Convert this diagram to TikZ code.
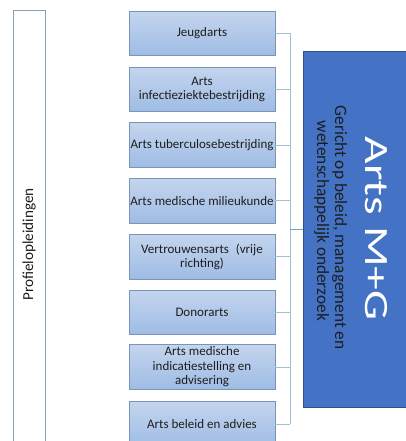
\documentclass[tikz,border=0pt]{standalone}
\usepackage{fontspec}
\setmainfont{Carlito}
\definecolor{boxtop}{RGB}{196,213,238}
\definecolor{boxbot}{RGB}{158,188,228}
\definecolor{boxline}{RGB}{122,148,184}
\definecolor{leftc}{RGB}{140,160,184}
\definecolor{connc}{RGB}{160,190,212}
\definecolor{conn2c}{RGB}{120,160,200}
\definecolor{mgfill}{RGB}{68,114,196}
\definecolor{mgline}{RGB}{47,82,143}
\definecolor{txt}{RGB}{30,30,30}
\begin{document}
\begin{tikzpicture}[x=1pt,y=-1pt,
  stepbox/.style={draw=boxline, line width=0.8pt, top color=boxtop, bottom color=boxbot,
    minimum width=146pt, minimum height=44.5pt, inner sep=0pt,
    align=center, font=\fontsize{13}{14.5}\selectfont, text=txt},
  conn/.style={draw=connc, line width=0.9pt},
  conn2/.style={draw=conn2c, line width=1.2pt},
  vtext/.style={rotate=-90, anchor=base, text=txt, font=\fontsize{17.3}{20}\selectfont}
]
\useasboundingbox (0,0) rectangle (406,441);
\clip (0,0) rectangle (406,441);
\fill[white] (0,0) rectangle (406,441);
% left frame
\node[draw=leftc, line width=0.8pt, minimum width=32pt, minimum height=470pt, inner sep=0pt, anchor=north west] (left) at (13,10) {};
\node[rotate=90, anchor=base, text=txt, font=\fontsize{15.2}{18}\selectfont] (plabel) at (33,244.5) {Profielopleidingen};
% boxes
\node[stepbox] (b1) at (202,33.5) {Jeugdarts};
\node[stepbox] (b2) at (202,89.3) {Arts\\infectieziektebestrijding};
\node[stepbox] (b3) at (202,145.1) {Arts tuberculosebestrijding};
\node[stepbox] (b4) at (202,200.9) {Arts medische milieukunde};
\node[stepbox] (b5) at (202,256.7) {Vertrouwensarts\hspace{0.3em} (vrije\\richting)};
\node[stepbox] (b6) at (202,312.5) {Donorarts};
\node[stepbox] (b7) at (202,367) {Arts medische\\indicatiestelling en\\advisering};
\node[stepbox] (b8) at (202,424.1) {Arts beleid en advies};
% blue box
\node[draw=mgline, fill=mgfill, line width=1pt, minimum width=110pt, minimum height=356pt, inner sep=0pt, anchor=north west] (mg) at (303,51) {};
\node[rotate=-90, anchor=base, text=white, font=\fontsize{34}{40}\selectfont] (mgt) at (365,228.5) {\scalebox{1.4}[1]{Arts M+G}};
\node[vtext] (sub1) at (335,227.5) {Gericht op beleid, management en};
\node[vtext] (sub2) at (317,221) {wetenschappelijk onderzoek};
% connectors
\coordinate (sx) at (290,0);
\foreach \i in {1,...,8} {\draw[conn] (b\i.east) -- (b\i.east -| sx);}
\draw[conn] (b1.east -| sx) -- (b8.east -| sx);
\draw[conn2] (mg.west -| sx) -- (mg.west);
\end{tikzpicture}
\end{document}
